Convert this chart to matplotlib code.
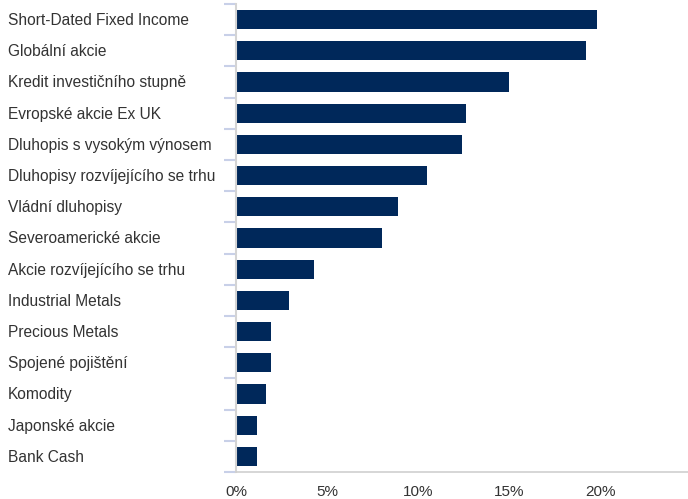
import matplotlib.pyplot as plt
from matplotlib.ticker import FixedLocator
import matplotlib.transforms as mtransforms
import numpy as np

kategorie = ['Short-Dated Fixed Income', 'Globální akcie', 'Kredit investičního stupně',
             'Evropské akcie Ex UK', 'Dluhopis s vysokým výnosem',
             'Dluhopisy rozvíjejícího se trhu', 'Vládní dluhopisy', 'Severoamerické akcie',
             'Akcie rozvíjejícího se trhu', 'Industrial Metals', 'Precious Metals',
             'Spojené pojištění', 'Komodity', 'Japonské akcie', 'Bank Cash']
hodnoty = [19.8, 19.2, 15.0, 12.6, 12.4, 10.5, 8.9, 8.0, 4.3, 2.9, 1.9, 1.9, 1.65, 1.15, 1.15]
x_ticky = [0, 5, 10, 15, 20]

plt.rcParams['font.family'] = ['Liberation Sans', 'DejaVu Sans']

fig = plt.figure(figsize=(6.88, 4.99), dpi=100)
ax = fig.add_axes([236/688, 1-472/499, 1-236/688, (472-4)/499])

y = np.arange(len(kategorie))
ax.barh(y, hodnoty, height=0.61, color='#00285a')
ax.set_ylim(len(kategorie) - 0.5, -0.5)
ax.set_xlim(0, 24.8)

# osy
for s in ['top', 'right']:
    ax.spines[s].set_visible(False)
ax.spines['left'].set_color('#d4d4d4')
ax.spines['left'].set_linewidth(1.5)
ax.spines['bottom'].set_color('#cfcfcf')
ax.spines['bottom'].set_linewidth(1.2)

ax.set_yticks([])
ax.yaxis.set_minor_locator(FixedLocator(np.arange(-0.5, len(kategorie), 1)))
ax.tick_params(axis='y', which='minor', length=8.5, width=1.5, color='#c8d0e8', direction='out')

ax.set_xticks(x_ticky)
ax.set_xticklabels([f'{t}%' for t in x_ticky])
ax.tick_params(axis='x', length=0, pad=9, labelsize=11, labelcolor='#333333')

trans = mtransforms.blended_transform_factory(fig.transFigure, ax.transData)
for yi, k in zip(y, kategorie):
    ax.text(8/688, yi + 0.03, k, transform=trans, ha='left', va='center',
            fontsize=11.2, color='#333333')

fig.savefig('out.png', dpi=100)
